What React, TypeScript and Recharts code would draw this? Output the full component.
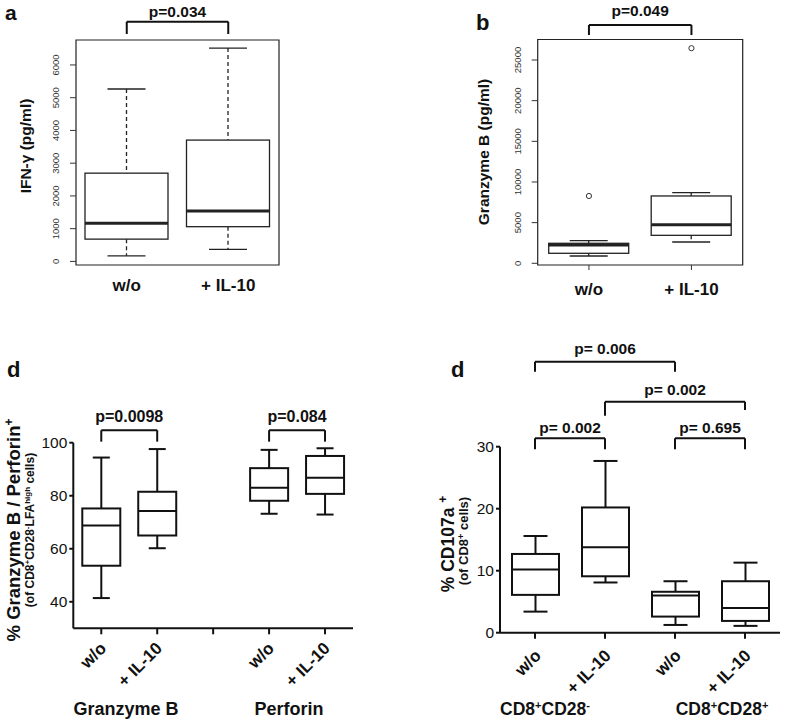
import { ComposedChart, Bar, Line, XAxis, YAxis, ReferenceLine, ReferenceArea } from 'recharts'

// panel a: IFN-γ (pg/ml)
const catsA = ['w/o', '+ IL-10']
const ifnLow = [170, 370]
const ifnQ1 = [680, 1060]
const ifnMed = [1165, 1540]
const ifnQ3 = [2695, 3705]
const ifnHigh = [5265, 6515]
const ticksA = [0, 1000, 2000, 3000, 4000, 5000, 6000]

// panel b: Granzyme B (pg/ml)
const catsB = ['w/o', '+ IL-10']
const gzbLow = [900, 2620]
const gzbQ1 = [1230, 3440]
const gzbMed = [2250, 4750]
const gzbQ3 = [2460, 8280]
const gzbHigh = [2780, 8690]
const gzbOutlier = [8280, 26450]
const ticksB = [0, 5000, 10000, 15000, 20000, 25000]

// panel d (left): % Granzyme B / Perforin+
const keysC = ['gw', 'gi', 'gap', 'pw', 'pi']
const labelsC = ['w/o', '+ IL-10', '', 'w/o', '+ IL-10']
const pctLow = [41.4, 60.2, null, 73.2, 72.9]
const pctQ1 = [53.6, 65.0, null, 78.1, 80.7]
const pctMed = [68.8, 74.2, null, 83.0, 86.8]
const pctQ3 = [75.2, 81.5, null, 90.4, 95.0]
const pctHigh = [94.4, 97.6, null, 97.3, 97.9]
const ticksC = [40, 60, 80, 100]

// panel d (right): % CD107a+
const keysD = ['mw', 'mi', 'pw', 'pi']
const labelsD = ['w/o', '+ IL-10', 'w/o', '+ IL-10']
const cdLow = [3.4, 8.1, 1.25, 1.1]
const cdQ1 = [6.1, 9.1, 2.6, 1.9]
const cdMed = [10.2, 13.8, 6.0, 4.0]
const cdQ3 = [12.7, 20.2, 6.6, 8.3]
const cdHigh = [15.6, 27.7, 8.3, 11.3]
const ticksD = [0, 10, 20, 30]

const rowsA = catsA.map((c, i) => ({ cat: c, lo: ifnLow[i], q1: ifnQ1[i], med: ifnMed[i], q3: ifnQ3[i], hi: ifnHigh[i] }))
const rowsB = catsB.map((c, i) => ({
  cat: c, lo: gzbLow[i], q1: gzbQ1[i], med: gzbMed[i], q3: gzbQ3[i], hi: gzbHigh[i], out: gzbOutlier[i],
}))
const rowsC = keysC.map((k, i) => ({ key: k, lo: pctLow[i], q1: pctQ1[i], med: pctMed[i], q3: pctQ3[i], hi: pctHigh[i] }))
const rowsD = keysD.map((k, i) => ({ key: k, lo: cdLow[i], q1: cdQ1[i], med: cdMed[i], q3: cdQ3[i], hi: cdHigh[i] }))

const domA = [-110, 6762]
const domB = [-209, 27521]

const INK = '#111'
const FONT = '"Liberation Sans", Arial, Helvetica, sans-serif'

const range = (d: any) => (d.lo == null ? null : [d.lo, d.hi])

type BoxStyle = { stroke: string; lw: number; medLw: number; cap: number; dash?: string }

function boxShape(s: BoxStyle) {
  return (p: any) => {
    const d = p.payload
    if (!d || d.lo == null) return <g />
    const top = Math.min(p.y, p.y + p.height)
    const bot = Math.max(p.y, p.y + p.height)
    const toY = (v: number) => bot - ((v - d.lo) / (d.hi - d.lo)) * (bot - top)
    const cx = p.x + p.width / 2
    const yq1 = toY(d.q1)
    const yq3 = toY(d.q3)
    const ym = toY(d.med)
    const line = { stroke: s.stroke, strokeWidth: s.lw }
    return (
      <g>
        <line x1={cx} x2={cx} y1={top} y2={yq3} {...line} strokeDasharray={s.dash} />
        <line x1={cx} x2={cx} y1={yq1} y2={bot} {...line} strokeDasharray={s.dash} />
        <line x1={cx - s.cap / 2} x2={cx + s.cap / 2} y1={top} y2={top} {...line} />
        <line x1={cx - s.cap / 2} x2={cx + s.cap / 2} y1={bot} y2={bot} {...line} />
        <rect x={p.x} y={yq3} width={p.width} height={yq1 - yq3} fill="none" {...line} />
        <line x1={p.x} x2={p.x + p.width} y1={ym} y2={ym} stroke={s.stroke} strokeWidth={s.medLw} />
      </g>
    )
  }
}

function bracket(id: string, x1: string, x2: string, y: number, dropL: number, dropR: number, text: string, offset: number, fontSize: number) {
  const st = { stroke: INK, strokeWidth: 2, ifOverflow: 'visible' as const }
  return [
    <ReferenceLine key={id + 'h'} segment={[{ x: x1, y }, { x: x2, y }]} {...st}
      label={{ value: text, position: 'top', offset, fill: INK, fontSize, fontWeight: 'bold' }} />,
    <ReferenceLine key={id + 'l'} segment={[{ x: x1, y }, { x: x1, y: dropL }]} {...st} />,
    <ReferenceLine key={id + 'r'} segment={[{ x: x2, y }, { x: x2, y: dropR }]} {...st} />,
  ]
}

const rotTick = (p: any) => (
  <text x={p.x} y={p.y} transform={`rotate(-90 ${p.x} ${p.y})`} textAnchor="middle" fontSize={9.5} fill="#333">
    {p.payload.value}
  </text>
)

const boldTick = (p: any) => (
  <text x={p.x} y={p.y} textAnchor="middle" fontSize={17} fontWeight="bold" fill={INK}>
    {p.payload.value}
  </text>
)

const slantTick = (keys: string[], labels: string[], dx: number) => (p: any) => {
  const lbl = labels[keys.indexOf(p.payload.value)]
  const x = p.x + dx
  return (
    <text x={x} y={p.y} transform={`rotate(-45 ${x} ${p.y})`} textAnchor="end" fontSize={17} fontWeight="bold" fill={INK}>
      {lbl}
    </text>
  )
}

const outlierDot = (p: any) =>
  p.payload.out == null ? (
    <g key={p.index} />
  ) : (
    <circle key={p.index} cx={p.cx} cy={p.cy} r={2.6} fill="#fff" stroke="#333" strokeWidth={1} />
  )

export default function App() {
  return (
    <div style={{ position: 'absolute', left: 0, top: 0, width: 787, height: 725, background: '#fff', fontFamily: FONT }}>
      {/* a */}
      <div style={{ position: 'absolute', left: 0, top: 0 }}>
        <ComposedChart width={300} height={300} data={rowsA} margin={{ top: 40, right: 21, bottom: 5, left: 16 }}>
          <XAxis dataKey="cat" height={30} axisLine={false} tickLine={false} tickSize={6} tickMargin={20} tick={boldTick} interval={0} />
          <YAxis width={60} type="number" domain={domA} ticks={ticksA} axisLine={false}
            tickLine={{ stroke: '#333' }} tickSize={6} tickMargin={11} tick={rotTick} />
          <ReferenceArea y1={domA[0]} y2={domA[1]} fill="none" fillOpacity={0} stroke="#222" strokeWidth={1.2} ifOverflow="visible" />
          <Bar dataKey={range} barSize={83} isAnimationActive={false}
            shape={boxShape({ stroke: '#222', lw: 1.3, medLw: 3, cap: 38, dash: '4 3' })} />
          {bracket('a', 'w/o', '+ IL-10', 7321, 6945, 6945, 'p=0.034', 5, 15.5)}
        </ComposedChart>
      </div>

      {/* b */}
      <div style={{ position: 'absolute', left: 440, top: 0 }}>
        <ComposedChart width={320} height={300} data={rowsB} margin={{ top: 39.5, right: 17.3, bottom: 5, left: 37.7 }}>
          <XAxis dataKey="cat" height={30} axisLine={false} tickLine={{ stroke: '#333' }} tickSize={5} tickMargin={25} tick={boldTick} interval={0} />
          <YAxis width={60} type="number" domain={domB} ticks={ticksB} axisLine={false}
            tickLine={{ stroke: '#333' }} tickSize={6} tickMargin={11} tick={rotTick} />
          <ReferenceArea y1={domB[0]} y2={domB[1]} fill="none" fillOpacity={0} stroke="#222" strokeWidth={1.2} ifOverflow="visible" />
          <Bar dataKey={range} barSize={80} isAnimationActive={false}
            shape={boxShape({ stroke: '#222', lw: 1.3, medLw: 3, cap: 38, dash: '4 3' })} />
          <Line dataKey="out" stroke="none" dot={outlierDot} activeDot={false} isAnimationActive={false} />
          {bracket('b', 'w/o', '+ IL-10', 29304, 28074, 28074, 'p=0.049', 9, 15.5)}
        </ComposedChart>
      </div>

      {/* d left */}
      <div style={{ position: 'absolute', left: 0, top: 340 }}>
        <ComposedChart width={370} height={385} data={rowsC} margin={{ top: 102.7, right: 17, bottom: 6.7, left: 13.3 }}>
          <XAxis dataKey="key" height={90} axisLine={{ stroke: INK, strokeWidth: 2 }} tickLine={{ stroke: INK, strokeWidth: 2 }}
            tickSize={6} tickMargin={15} tick={slantTick(keysC, labelsC, 6)} interval={0} />
          <YAxis width={60} type="number" domain={[30, 100]} ticks={ticksC} axisLine={{ stroke: INK, strokeWidth: 2 }}
            tickLine={{ stroke: INK, strokeWidth: 2 }} tickSize={4} tickMargin={2} tick={{ fill: INK, fontSize: 15.5 }} />
          <Bar dataKey={range} barSize={38} isAnimationActive={false}
            shape={boxShape({ stroke: INK, lw: 2, medLw: 2, cap: 17 })} />
          {bracket('c1', 'gw', 'gi', 104.7, 100.4, 100.4, 'p=0.0098', 8, 16)}
          {bracket('c2', 'pw', 'pi', 104.7, 100.4, 100.4, 'p=0.084', 8, 16)}
        </ComposedChart>
      </div>

      {/* d right */}
      <div style={{ position: 'absolute', left: 420, top: 340 }}>
        <ComposedChart width={367} height={385} data={rowsD} margin={{ top: 106.7, right: 7, bottom: 6.3, left: 30 }}>
          <XAxis dataKey="key" height={86} axisLine={{ stroke: INK, strokeWidth: 2 }} tickLine={{ stroke: INK, strokeWidth: 2 }}
            tickSize={6} tickMargin={18} tick={slantTick(keysD, labelsD, 7)} interval={0} />
          <YAxis width={50} type="number" domain={[0, 30]} ticks={ticksD} axisLine={{ stroke: INK, strokeWidth: 2 }}
            tickLine={{ stroke: INK, strokeWidth: 2 }} tickSize={4} tickMargin={2} tick={{ fill: INK, fontSize: 15.5 }} />
          <Bar dataKey={range} barSize={47} isAnimationActive={false}
            shape={boxShape({ stroke: INK, lw: 2, medLw: 2, cap: 24 })} />
          {bracket('d1', 'mw', 'mi', 31.35, 29.6, 29.6, 'p= 0.002', 5.5, 15.5)}
          {bracket('d2', 'pw', 'pi', 31.35, 29.6, 29.6, 'p= 0.695', 5.5, 15.5)}
          {bracket('d3', 'mi', 'pi', 37.26, 35.0, 35.9, 'p= 0.002', 6.3, 15.5)}
          {bracket('d4', 'mw', 'pw', 43.7, 42.1, 42.1, 'p= 0.006', 8, 15.5)}
        </ComposedChart>
      </div>

      <svg width={787} height={725} style={{ position: 'absolute', left: 0, top: 0, pointerEvents: 'none' }} fontFamily={FONT}>
        <g fontWeight="bold" fill={INK}>
          <text x={5} y={20} fontSize={21}>a</text>
          <text x={476} y={30} fontSize={22}>b</text>
          <text x={7} y={377} fontSize={22}>d</text>
          <text x={451} y={377} fontSize={22}>d</text>

          <text transform="translate(31 146) rotate(-90)" textAnchor="middle" fontSize={15.5}>IFN-γ (pg/ml)</text>
          <text transform="translate(489 152) rotate(-90)" textAnchor="middle" fontSize={15.5}>Granzyme B (pg/ml)</text>

          <text transform="translate(20 530) rotate(-90)" textAnchor="middle" fontSize={18.5}>
            % Granzyme B / Perforin<tspan dy={-7} fontSize={12}>+</tspan>
          </text>
          <text transform="translate(34 530) rotate(-90)" textAnchor="middle" fontSize={12}>
            (of CD8<tspan dy={-4} fontSize={8}>+</tspan>
            <tspan dy={4}>CD28</tspan>
            <tspan dy={-4} fontSize={8}>-</tspan>
            <tspan dy={4}>LFA</tspan>
            <tspan dy={-4} fontSize={8}>high</tspan>
            <tspan dy={4}> cells)</tspan>
          </text>

          <text transform="translate(454 544) rotate(-90)" textAnchor="middle" fontSize={17.5}>
            % CD107a <tspan dy={-7} fontSize={12}>+</tspan>
          </text>
          <text transform="translate(468 541) rotate(-90)" textAnchor="middle" fontSize={13}>
            (of CD8<tspan dy={-4} fontSize={9}>+</tspan>
            <tspan dy={4}> cells)</tspan>
          </text>

          <text x={126} y={715} textAnchor="middle" fontSize={18}>Granzyme B</text>
          <text x={289} y={715} textAnchor="middle" fontSize={18}>Perforin</text>
          <text x={545} y={715} textAnchor="middle" fontSize={17.5}>
            CD8<tspan dy={-6} fontSize={11}>+</tspan>
            <tspan dy={6}>CD28</tspan>
            <tspan dy={-6} fontSize={11}>-</tspan>
          </text>
          <text x={722} y={715} textAnchor="middle" fontSize={17.5}>
            CD8<tspan dy={-6} fontSize={11}>+</tspan>
            <tspan dy={6}>CD28</tspan>
            <tspan dy={-6} fontSize={11}>+</tspan>
          </text>
        </g>
      </svg>
    </div>
  )
}
